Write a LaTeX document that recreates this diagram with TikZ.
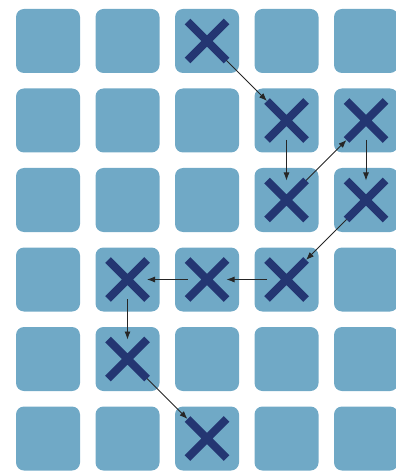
\documentclass[tikz,border=0pt]{standalone}
\usepackage{tikz}
\usetikzlibrary{arrows.meta,shapes.misc}
\definecolor{cellblue}{RGB}{112,169,198}
\definecolor{markblue}{RGB}{36,54,114}
\tikzset{
  cell/.style={fill=cellblue, rounded corners=0.16cm, minimum size=1.28cm, inner sep=0pt},
  xmark/.style={cross out, draw=markblue, line width=0.16cm, minimum size=0.62cm, inner sep=0pt},
  pathflow/.style={-{Latex[length=1.6mm,width=1.2mm]}, line width=0.5pt, black!85}
}

\begin{document}
\begin{tikzpicture}[x=1cm,y=1cm]
  \useasboundingbox (0,0) rectangle (7.92,-9.42);
  \foreach \r in {1,...,6}
    \foreach \c in {1,...,5}
      \node[cell] (cell-\r-\c) at ({0.96+1.59*(\c-1)},{-0.82-1.59*(\r-1)}) {};

  \node[xmark] (m1) at (cell-1-3) {};
  \node[xmark] (m2) at (cell-2-4) {};
  \node[xmark] (m3) at (cell-3-4) {};
  \node[xmark] (m4) at (cell-2-5) {};
  \node[xmark] (m5) at (cell-3-5) {};
  \node[xmark] (m6) at (cell-4-4) {};
  \node[xmark] (m7) at (cell-4-3) {};
  \node[xmark] (m8) at (cell-4-2) {};
  \node[xmark] (m9) at (cell-5-2) {};
  \node[xmark] (m10) at (cell-6-3) {};

  \draw[pathflow] (m1) -- (m2);
  \draw[pathflow] (m2) -- (m3);
  \draw[pathflow] (m3) -- (m4);
  \draw[pathflow] (m4) -- (m5);
  \draw[pathflow] (m5) -- (m6);
  \draw[pathflow] (m6) -- (m7);
  \draw[pathflow] (m7) -- (m8);
  \draw[pathflow] (m8) -- (m9);
  \draw[pathflow] (m9) -- (m10);
\end{tikzpicture}
\end{document}
